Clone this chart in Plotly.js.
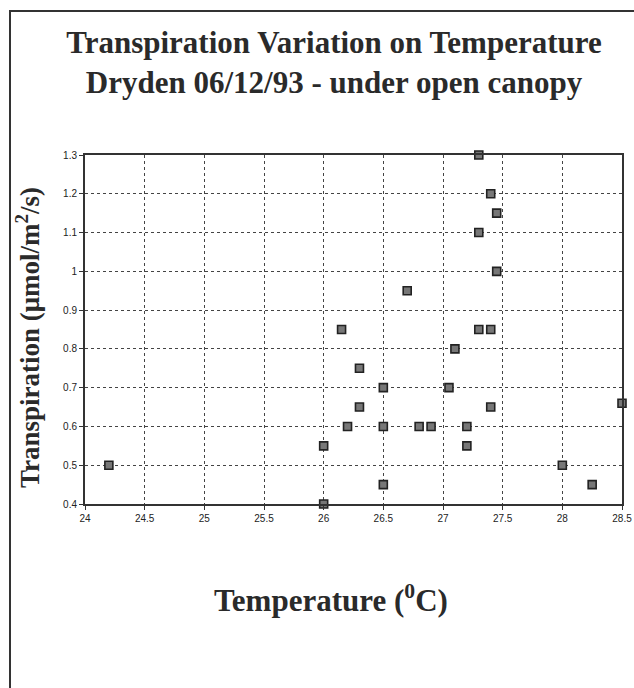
<!DOCTYPE html>
<html>
<head>
<meta charset="utf-8">
<script src="https://cdn.plot.ly/plotly-3.0.1.min.js"></script>
<style>html,body{margin:0;padding:0;background:#fff;}</style>
</head>
<body>
<div id="chart" style="width:634px;height:688px;"></div>
<script>
// Data
const temperature = [24.2, 26.0, 26.0, 26.15, 26.2, 26.3, 26.3, 26.5, 26.5, 26.5, 26.7, 26.8, 26.9, 27.05, 27.1, 27.2, 27.2, 27.3, 27.3, 27.3, 27.4, 27.4, 27.4, 27.45, 27.45, 28.0, 28.25, 28.5];
const transpiration = [0.5, 0.4, 0.55, 0.85, 0.6, 0.75, 0.65, 0.7, 0.6, 0.45, 0.95, 0.6, 0.6, 0.7, 0.8, 0.6, 0.55, 1.3, 1.1, 0.85, 1.2, 0.85, 0.65, 1.15, 1.0, 0.5, 0.45, 0.66];
const xTickVals = [24, 24.5, 25, 25.5, 26, 26.5, 27, 27.5, 28, 28.5];
const xTickText = ['24', '24.5', '25', '25.5', '26', '26.5', '27', '27.5', '28', '28.5'];
const yTickVals = [0.4, 0.5, 0.6, 0.7, 0.8, 0.9, 1.0, 1.1, 1.2, 1.3];
const yTickText = ['0.4', '0.5', '0.6', '0.7', '0.8', '0.9', '1', '1.1', '1.2', '1.3'];
const titleLines = ['Transpiration Variation on Temperature', 'Dryden 06/12/93 - under open canopy'];
const xTitle = 'Temperature (<sup>0</sup>C)';
const yTitle = 'Transpiration (μmol/m<sup>2</sup>/s)';

const serif = '"Liberation Serif", "DejaVu Serif", serif';
const ink = '#2a2a2a';
const tickFont = {family: '"Liberation Sans Narrow", "Liberation Sans", Arial, sans-serif', size: 10, color: '#222'};

const trace = {
  x: temperature,
  y: transpiration,
  type: 'scatter',
  mode: 'markers',
  cliponaxis: false,
  marker: {symbol: 'square', size: 8, color: '#777', line: {color: '#222', width: 1.6}},
  hoverinfo: 'x+y'
};

const axisCommon = {
  showline: true, linecolor: '#333', linewidth: 2, mirror: true,
  showgrid: true, gridcolor: '#444', gridwidth: 1, griddash: 'dot',
  zeroline: false, ticks: 'outside', ticklen: 4, tickcolor: '#333',
  tickfont: tickFont, fixedrange: true
};

// plot area: x 85..622 px, y 155..504 px
const layout = {
  width: 634, height: 688,
  margin: {l: 85, r: 12, t: 155, b: 184},
  paper_bgcolor: '#fff', plot_bgcolor: '#fff',
  showlegend: false,
  title: {
    text: '<b>' + titleLines.join('<br>') + '</b>',
    font: {family: serif, size: 31, color: ink},
    x: 334 / 634, xanchor: 'center', xref: 'container',
    y: 1 - 53 / 688, yanchor: 'middle', yref: 'container'
  },
  xaxis: Object.assign({}, axisCommon, {
    range: [24, 28.5], tickmode: 'array', tickvals: xTickVals, ticktext: xTickText
  }),
  yaxis: Object.assign({}, axisCommon, {
    range: [0.4, 1.3], tickmode: 'array', tickvals: yTickVals, ticktext: yTickText
  }),
  annotations: [
    {text: '<b>' + xTitle + '</b>', xref: 'paper', yref: 'paper',
     x: (331 - 85) / 537, y: -(598 - 504) / 349, xanchor: 'center', yanchor: 'middle',
     showarrow: false, font: {family: serif, size: 31, color: ink}},
    {text: '<b>' + yTitle + '</b>', xref: 'paper', yref: 'paper', textangle: -90,
     x: -(85 - 28) / 537, y: (504 - 338) / 349, xanchor: 'center', yanchor: 'middle',
     showarrow: false, font: {family: serif, size: 27, color: ink}}
  ],
  shapes: [{
    type: 'rect', xref: 'paper', yref: 'paper',
    x0: -(85 - 10) / 537, x1: 1.05, y0: -0.56, y1: 1 + (155 - 11) / 349,
    line: {color: '#333', width: 2}, fillcolor: 'rgba(0,0,0,0)', layer: 'below'
  }]
};

Plotly.newPlot('chart', [trace], layout, {displayModeBar: false, staticPlot: true});
</script>
</body>
</html>
